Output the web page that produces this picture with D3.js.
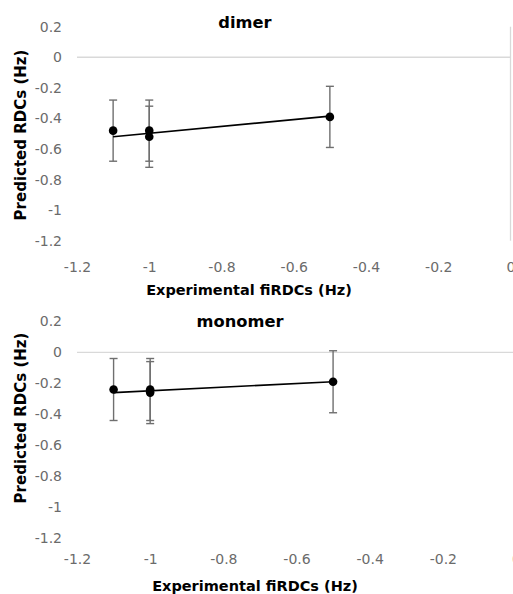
<!DOCTYPE html>
<html>
<head>
<meta charset="utf-8">
<script src="https://cdn.jsdelivr.net/npm/d3@7"></script>
<style>
  body { margin: 0; background: #fff; }
  svg { display: block; }
</style>
</head>
<body>
<script>
// Chart data
const xTicks = [-1.2, -1, -0.8, -0.6, -0.4, -0.2, 0];
const yTicks = [0.2, 0, -0.2, -0.4, -0.6, -0.8, -1, -1.2];

// Experimental fiRDCs (x) shared by both panels
const expRDC = [-1.1, -1, -1, -0.5];

const dimerPred = [-0.48, -0.48, -0.52, -0.39];
const dimerErr = [0.2, 0.2, 0.2, 0.2];

const monomerPred = [-0.24, -0.24, -0.26, -0.19];
const monomerErr = [0.2, 0.2, 0.2, 0.2];

// linear trendline end points
const trendX = [-1.1, -0.5];
const dimerTrend = [-0.52, -0.385];
const monomerTrend = [-0.26, -0.19];

const WIDTH = 513;
const HEIGHT = 594;

const svg = d3.select("body")
              .append("svg")
              .attr("width", WIDTH)
              .attr("height", HEIGHT);

/**
 * Draw one excel-like panel. Layout numbers are per panel since
 * the two panels are not exactly the same size in the picture.
 */
function drawPanel(p) {
    let x = d3.scaleLinear().domain([-1.2, 0]).range([p.left, p.right]);
    let y = d3.scaleLinear().domain([-1.2, 0.2]).range([p.bottom, p.top]);
    let g = svg.append("g");

    // horizontal axis line crosses at y = 0
    g.append("line")
     .attr("x1", x(-1.2)).attr("x2", x(0))
     .attr("y1", y(0)).attr("y2", y(0))
     .attr("stroke", "#d9d9d9").attr("stroke-width", 1.3);

    // vertical axis line crosses at x = 0
    g.append("line")
     .attr("x1", x(0)).attr("x2", x(0))
     .attr("y1", y(0.2)).attr("y2", y(-1.2))
     .attr("stroke", "#d9d9d9").attr("stroke-width", 1.3);

    // tick labels, axes drawn with d3 but lines removed
    let xAxis = g.append("g")
                 .attr("transform", `translate(0,${p.bottom})`)
                 .call(d3.axisBottom(x).tickValues(xTicks)
                         .tickSize(0).tickPadding(p.xTickPad)
                         .tickFormat(d => d.toString()));
    let yAxis = g.append("g")
                 .attr("transform", `translate(${p.yLabelRight},0)`)
                 .call(d3.axisLeft(y).tickValues(yTicks)
                         .tickSize(0).tickPadding(0)
                         .tickFormat(d => d.toString()));
    [xAxis, yAxis].forEach(a => {
        a.select(".domain").remove();
        a.selectAll("text")
         .attr("font-family", "DejaVu Sans")
         .attr("font-size", 14)
         .attr("fill", "#6b6b6b");
    });

    // error bars
    let eb = g.append("g").attr("stroke", "#6f6f6f").attr("stroke-width", 1.4);
    p.pred.forEach((v, i) => {
        let cx = x(expRDC[i]);
        let y1 = y(v + p.err[i]), y2 = y(v - p.err[i]);
        eb.append("line").attr("x1", cx).attr("x2", cx).attr("y1", y1).attr("y2", y2);
        [y1, y2].forEach(cy => {
            eb.append("line").attr("x1", cx - 4).attr("x2", cx + 4)
              .attr("y1", cy).attr("y2", cy);
        });
    });

    // trendline
    g.append("line")
     .attr("x1", x(trendX[0])).attr("y1", y(p.trend[0]))
     .attr("x2", x(trendX[1])).attr("y2", y(p.trend[1]))
     .attr("stroke", "#000").attr("stroke-width", 1.6);

    // markers
    g.selectAll("circle.pt")
     .data(p.pred)
     .enter()
     .append("circle")
     .attr("class", "pt")
     .attr("cx", (d, i) => x(expRDC[i]))
     .attr("cy", d => y(d))
     .attr("r", 4.3)
     .attr("fill", "#000");

    // titles
    g.append("text")
     .attr("x", p.titleX).attr("y", p.titleY)
     .attr("text-anchor", "middle")
     .attr("font-family", "DejaVu Sans").attr("font-weight", "bold")
     .attr("font-size", 16.3).attr("fill", "#000")
     .text(p.title);

    g.append("text")
     .attr("x", p.xTitleX).attr("y", p.xTitleY)
     .attr("text-anchor", "middle")
     .attr("font-family", "DejaVu Sans").attr("font-weight", "bold")
     .attr("font-size", 14.5).attr("fill", "#000")
     .text("Experimental fiRDCs (Hz)");

    g.append("text")
     .attr("transform", `translate(${p.yTitleX},${p.yTitleY}) rotate(-90)`)
     .attr("text-anchor", "middle")
     .attr("font-family", "DejaVu Sans").attr("font-weight", "bold")
     .attr("font-size", 15).attr("fill", "#000")
     .text("Predicted RDCs (Hz)");
}

drawPanel({
    title: "dimer", pred: dimerPred, err: dimerErr, trend: dimerTrend,
    left: 77, right: 510.5, top: 26.7, bottom: 240.7,
    xTickPad: 21, yLabelRight: 62,
    titleX: 245, titleY: 27.5,
    xTitleX: 249, xTitleY: 294.5,
    yTitleX: 26, yTitleY: 135
});

drawPanel({
    title: "monomer", pred: monomerPred, err: monomerErr, trend: monomerTrend,
    left: 77, right: 516, top: 321.3, bottom: 538.3,
    xTickPad: 16, yLabelRight: 62,
    titleX: 240, titleY: 326.7,
    xTitleX: 255, xTitleY: 590.5,
    yTitleX: 26, yTitleY: 418
});
</script>
</body>
</html>
